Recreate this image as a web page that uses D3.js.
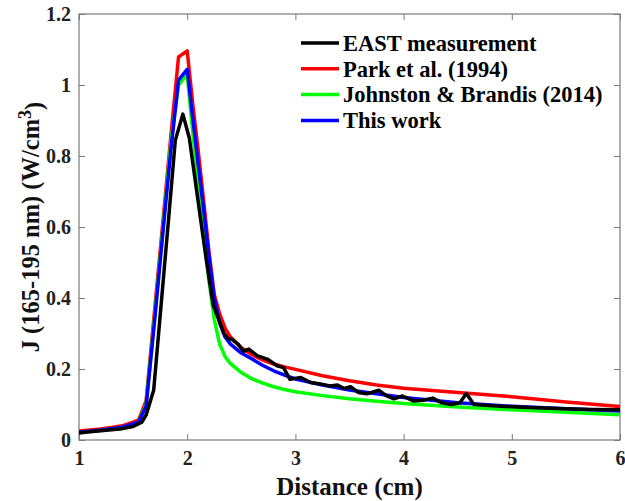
<!DOCTYPE html>
<html>
<head>
<meta charset="utf-8">
<script src="https://cdn.jsdelivr.net/npm/d3@7/dist/d3.min.js"></script>
<style>
  html, body { margin: 0; padding: 0; background: #fff; }
  svg { display: block; }
</style>
</head>
<body>
<svg id="chart" width="625" height="501"></svg>
<script>
// ---- data ----
const modelDistance = [1.0,1.1,1.2,1.3,1.4,1.5,1.55,1.62,1.7,1.78,1.85,1.92,2.0,2.05,2.1,2.15,2.2,2.25,2.3,2.35,2.4,2.5,2.6,2.7,2.8,2.9,3.0,3.25,3.5,3.75,4.0,4.5,5.0,5.5,6.0];
const parkValues = [0.025,0.028,0.031,0.035,0.040,0.050,0.056,0.110,0.370,0.630,0.860,1.079,1.096,0.950,0.820,0.680,0.535,0.410,0.355,0.315,0.290,0.260,0.240,0.225,0.214,0.206,0.199,0.181,0.167,0.155,0.146,0.134,0.122,0.107,0.094];
const johnstonValues = [0.021,0.024,0.027,0.031,0.035,0.044,0.050,0.100,0.350,0.610,0.840,1.000,1.030,0.870,0.720,0.600,0.450,0.340,0.270,0.235,0.215,0.190,0.172,0.160,0.150,0.142,0.136,0.125,0.116,0.109,0.103,0.093,0.085,0.078,0.071];
const thisWorkValues = [0.022,0.025,0.028,0.032,0.036,0.045,0.050,0.095,0.340,0.600,0.820,1.014,1.044,0.910,0.780,0.655,0.520,0.400,0.330,0.290,0.270,0.245,0.228,0.210,0.195,0.183,0.172,0.155,0.141,0.130,0.120,0.105,0.095,0.088,0.082];
const eastDistance = [1.0,1.1,1.2,1.3,1.4,1.5,1.58,1.62,1.69,1.76,1.83,1.89,1.96,2.02,2.07,2.12,2.18,2.24,2.29,2.34,2.38,2.41,2.47,2.52,2.57,2.65,2.74,2.83,2.89,2.95,3.05,3.14,3.23,3.32,3.39,3.45,3.51,3.58,3.66,3.77,3.84,3.91,3.99,4.09,4.18,4.27,4.35,4.44,4.52,4.58,4.65,4.75,4.9,5.1,5.3,5.5,5.75,6.0];
const eastValues = [0.020,0.023,0.026,0.029,0.032,0.038,0.050,0.070,0.140,0.385,0.630,0.844,0.918,0.850,0.740,0.630,0.500,0.380,0.340,0.300,0.285,0.284,0.270,0.250,0.256,0.237,0.228,0.209,0.204,0.171,0.176,0.162,0.158,0.152,0.155,0.145,0.150,0.134,0.130,0.140,0.125,0.116,0.124,0.110,0.112,0.118,0.105,0.100,0.105,0.131,0.100,0.098,0.095,0.092,0.090,0.088,0.086,0.085];
const xTicks = [1,2,3,4,5,6];
const yTicks = [0,0.2,0.4,0.6,0.8,1,1.2];
const seriesNames = ["EAST measurement","Park et al. (1994)","Johnston & Brandis (2014)","This work"];
const seriesColors = ["#000000","#ff0000","#00ff00","#0000ff"];

// ---- chart ----
const FONT = "Liberation Serif";
const svg = d3.select("#chart");
const x = d3.scaleLinear().domain([1,6]).range([79,620]);
const y = d3.scaleLinear().domain([0,1.2]).range([440,14]);
const axisColor = "#7a7a7a";

function styleAxis(g, showLabels) {
  g.attr("font-family", FONT).attr("font-weight", "bold").attr("font-size", 20);
  g.select(".domain").remove();
  g.selectAll(".tick line").attr("stroke", axisColor).attr("stroke-width", 1);
  g.selectAll(".tick text").attr("fill", "#222")
    .attr("font-family", FONT).attr("font-weight", "bold").attr("font-size", 20);
  if (!showLabels) g.selectAll(".tick text").remove();
}

const gx = svg.append("g").attr("transform","translate(0,440)")
  .call(d3.axisBottom(x).tickValues(xTicks).tickFormat(d3.format("d")).tickSizeInner(-6).tickSizeOuter(0).tickPadding(6));
styleAxis(gx, true);
gx.selectAll(".tick text").attr("dy","0.95em");
const gxt = svg.append("g").attr("transform","translate(0,14)")
  .call(d3.axisTop(x).tickValues(xTicks).tickSizeInner(-6).tickSizeOuter(0));
styleAxis(gxt, false);
const gy = svg.append("g").attr("transform","translate(79,0)")
  .call(d3.axisLeft(y).tickValues(yTicks).tickFormat(d => String(d)).tickSizeInner(-6).tickSizeOuter(0).tickPadding(8));
styleAxis(gy, true);
const gyr = svg.append("g").attr("transform","translate(620,0)")
  .call(d3.axisRight(y).tickValues(yTicks).tickSizeInner(-6).tickSizeOuter(0));
styleAxis(gyr, false);

// box
svg.append("rect").attr("x", x(1)).attr("y", y(1.2))
  .attr("width", x(6)-x(1)).attr("height", y(0)-y(1.2))
  .attr("fill","none").attr("stroke", axisColor).attr("stroke-width", 1.2);

// clip
svg.append("clipPath").attr("id","plotclip").append("rect")
  .attr("x", x(1)).attr("y", y(1.2)).attr("width", x(6)-x(1)).attr("height", y(0)-y(1.2));

const line = d3.line().x(d => x(d[0])).y(d => y(d[1]));
const plot = svg.append("g").attr("clip-path","url(#plotclip)");
const models = [
  {vals: parkValues, color: seriesColors[1]},
  {vals: johnstonValues, color: seriesColors[2]},
  {vals: thisWorkValues, color: seriesColors[3]}
];
models.forEach(m => {
  plot.append("path").datum(modelDistance.map((d,i) => [d, m.vals[i]]))
    .attr("d", line).attr("fill","none").attr("stroke", m.color)
    .attr("stroke-width", 3.5).attr("stroke-linejoin","round");
});
plot.append("path").datum(eastDistance.map((d,i) => [d, eastValues[i]]))
  .attr("d", line).attr("fill","none").attr("stroke", seriesColors[0])
  .attr("stroke-width", 3.5).attr("stroke-linejoin","round");

// axis labels
svg.append("text").attr("x", (x(1)+x(6))/2).attr("y", 495)
  .attr("text-anchor","middle")
  .attr("font-family", FONT).attr("font-weight","bold").attr("font-size", 25).attr("fill","#111")
  .text("Distance (cm)");
const yl = svg.append("text").attr("transform", "translate(39,227) rotate(-90)")
  .attr("text-anchor","middle")
  .attr("font-family", FONT).attr("font-weight","bold").attr("font-size", 24.5).attr("fill","#111");
yl.append("tspan").text("J (165-195 nm) (W/cm");
yl.append("tspan").attr("dy","-0.45em").attr("font-size", 18).text("3");
yl.append("tspan").attr("dy","0.45em").text(")");

// legend
const legend = svg.append("g");
seriesNames.forEach((name, i) => {
  const ly = 43 + i * 25.8;
  legend.append("line").attr("x1", 301).attr("x2", 339).attr("y1", ly).attr("y2", ly)
    .attr("stroke", seriesColors[i]).attr("stroke-width", 3.5);
  legend.append("text").attr("x", 343).attr("y", ly).attr("dy","0.35em")
    .attr("font-family", FONT).attr("font-weight","bold").attr("font-size", 22.5)
    .attr("fill","#000").text(name);
});
</script>
</body>
</html>
